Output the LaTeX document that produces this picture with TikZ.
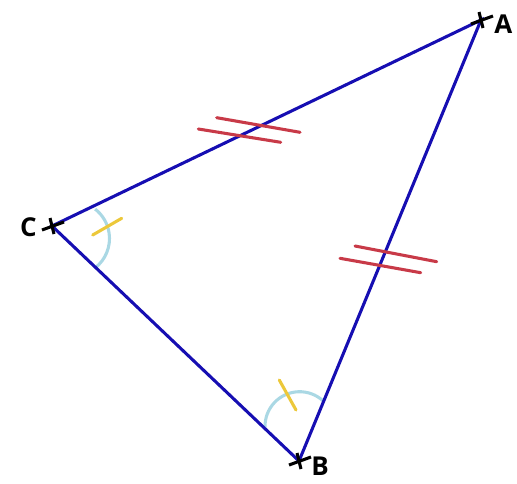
\documentclass[tikz,border=0pt]{standalone}
\usepackage{fontspec}
\setmainfont{Open Sans}
\usepackage{tikz}
\usetikzlibrary{positioning,calc}

\definecolor{triblue}{RGB}{22,14,178}
\definecolor{markred}{RGB}{200,58,72}
\definecolor{arcblue}{RGB}{170,216,228}
\definecolor{tickyellow}{RGB}{236,200,58}

\begin{document}
\begin{tikzpicture}[
    x=0.75pt, y=0.75pt,
    side/.style={draw=triblue, line width=2.3pt},
    equal/.style={draw=markred, line width=2.3pt, line cap=round},
    anglearc/.style={draw=arcblue, line width=2.3pt},
    angletick/.style={draw=tickyellow, line width=2.3pt, line cap=round},
    cross/.style={draw=black, line width=2.3pt},
    vlabel/.style={font=\bfseries\fontsize{19.5}{22}\selectfont, inner sep=0pt}
]
    \useasboundingbox (0,0) rectangle (517,483);

    \coordinate (A) at (481,463);
    \coordinate (B) at (299,22);
    \coordinate (C) at (52,257);

    % angle marks
    \draw[anglearc] (72.2,244.5) ++(-52:37.3) arc[start angle=-52, end angle=52, radius=37.3];
    \draw[anglearc] (299.6,56.7) ++(47:34.6) arc[start angle=47, end angle=181, radius=34.6];

    \draw[side] (A) -- (B) -- (C) -- cycle;

    \draw[angletick] (92.7,248) -- (121.7,264.7);
    \draw[angletick] (279.3,103) -- (296,73);

    % equal sides
    \draw[equal] (216.7,365.3) -- (300,350.7);
    \draw[equal] (198.3,354) -- (280.7,340.7);
    \draw[equal] (355,237) -- (436.7,221.3);
    \draw[equal] (340,224.7) -- (420.7,210.3);

    % vertices
    \foreach \v in {A,B,C} {
        \draw[cross] ($(\v)+(-10,-4)$) -- ($(\v)+(12,4)$);
        \draw[cross] ($(\v)+(-2,8)$) -- ($(\v)+(2,-8)$);
    }

    \node[vlabel] (labA) at (503.3,458.8) {A};
    \node[vlabel] (labB) at (320,16.3) {B};
    \node[vlabel] (labC) at (28.3,255.5) {C};
\end{tikzpicture}
\end{document}
